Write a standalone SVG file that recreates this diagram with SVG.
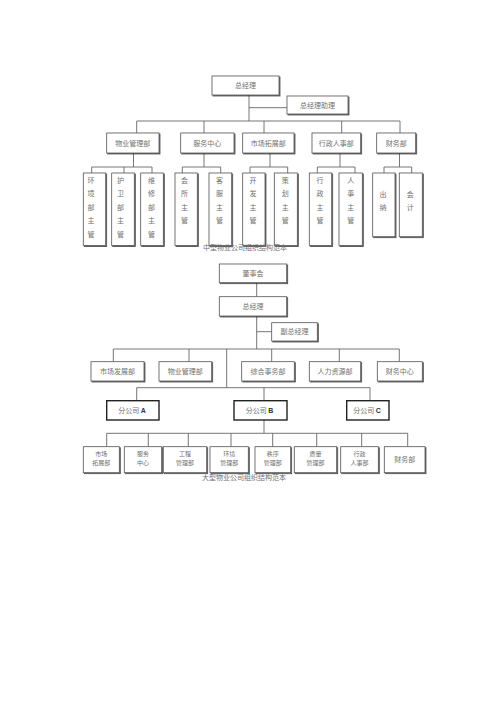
<svg xmlns="http://www.w3.org/2000/svg" width="500" height="707" viewBox="0 0 500 707">
<defs>
<filter id="sh" x="-10%" y="-10%" width="130%" height="130%">
<feOffset in="SourceAlpha" dx="0.9" dy="0.9" result="o"/>
<feComponentTransfer in="o" result="d"><feFuncA type="linear" slope="0.7"/></feComponentTransfer>
<feMerge><feMergeNode in="d"/><feMergeNode in="SourceGraphic"/></feMerge>
</filter>
</defs>
<style>
.b{fill:#fff;stroke:#555;stroke-width:0.8;filter:url(#sh)}
.bb{fill:#fff;stroke:#222;stroke-width:1.4}
.l{stroke:#666;stroke-width:0.9;fill:none}
text{font-family:"Noto Sans CJK SC","Liberation Sans",sans-serif;font-size:7px;fill:#707070;text-anchor:middle}
.two{font-size:6px}
.lat{font-family:"Liberation Sans",sans-serif;font-weight:bold;fill:#333}
</style>
<rect width="500" height="707" fill="#fff"/>

<g id="connectors">
<path class="l" d="M249 95V121M249 107.7H287M136.7 121H400M136.7 121V133M204 121V133M264 121V133M341.7 121V133M400 121V133"/>
<path class="l" d="M133.5 153V167M91.7 167H152M91.7 167V173M124 167V173M152 167V173"/>
<path class="l" d="M204 153V167M182.3 167H220.7M182.3 167V173M220.7 167V173"/>
<path class="l" d="M270 153V167M250 167H287.7M250 167V173M287.7 167V173"/>
<path class="l" d="M340 153V167M317.3 167H355M317.3 167V173M355 167V173"/>
<path class="l" d="M399.5 153V167M384 167H411.7M384 167V173M411.7 167V173"/>
<path class="l" d="M256.7 282.7V296.7M256.7 316V349M256.7 331.7H271.7M113.3 349H399.3M113.3 349V361.7M189 349V361.7M271.7 349V361.7M339.3 349V361.7M399.3 349V361.7"/>
<path class="l" d="M226.7 349V387.7M136.7 387.7H370M136.7 387.7V400.7M264 387.7V400.7M370 387.7V400.7"/>
<path class="l" d="M264 420V433.3M106.7 433.3H407.7M106.7 433.3V446.7M148.3 433.3V446.7M188.3 433.3V446.7M231 433.3V446.7M272.7 433.3V446.7M316.7 433.3V446.7M361.7 433.3V446.7M407.7 433.3V446.7"/>
</g>

<g id="gm1"><rect class="b" x="212" y="76" width="67" height="19"/><text x="245.5" y="88">总经理</text></g>
<g id="gma"><rect class="b" x="287" y="96" width="61" height="18"/><text x="317.5" y="107.5">总经理助理</text></g>
<g id="d1"><rect class="b" x="106.7" y="133" width="52.3" height="20"/><text x="132.8" y="145.5">物业管理部</text></g>
<g id="d2"><rect class="b" x="180.7" y="133" width="53.3" height="20"/><text x="207.3" y="145.5">服务中心</text></g>
<g id="d3"><rect class="b" x="242.7" y="133" width="51.3" height="20"/><text x="268.3" y="145.5">市场拓展部</text></g>
<g id="d4"><rect class="b" x="312" y="133" width="48.7" height="20"/><text x="336.3" y="145.5">行政人事部</text></g>
<g id="d5"><rect class="b" x="376.7" y="133" width="39" height="20"/><text x="396.2" y="145.5">财务部</text></g>

<g id="c1"><rect class="b" x="83.3" y="173" width="22.4" height="72.5"/><text x="91" y="182.5"><tspan x="91">环</tspan><tspan x="91" dy="13.5">境</tspan><tspan x="91" dy="13.5">部</tspan><tspan x="91" dy="13.5">主</tspan><tspan x="91" dy="13.5">管</tspan></text></g>
<g id="c2"><rect class="b" x="111.7" y="173" width="22.6" height="72.5"/><text x="120.5" y="182.5"><tspan x="120.5">护</tspan><tspan x="120.5" dy="13.5">卫</tspan><tspan x="120.5" dy="13.5">部</tspan><tspan x="120.5" dy="13.5">主</tspan><tspan x="120.5" dy="13.5">管</tspan></text></g>
<g id="c3"><rect class="b" x="140.7" y="173" width="22.6" height="72.5"/><text x="151.5" y="182.5"><tspan x="151.5">维</tspan><tspan x="151.5" dy="13.5">修</tspan><tspan x="151.5" dy="13.5">部</tspan><tspan x="151.5" dy="13.5">主</tspan><tspan x="151.5" dy="13.5">管</tspan></text></g>
<g id="c4"><rect class="b" x="175" y="173" width="22.3" height="72.5"/><text x="184.5" y="182.5"><tspan x="184.5">会</tspan><tspan x="184.5" dy="13.5">所</tspan><tspan x="184.5" dy="13.5">主</tspan><tspan x="184.5" dy="13.5">管</tspan></text></g>
<g id="c5"><rect class="b" x="209" y="173" width="22.7" height="72.5"/><text x="219.5" y="182.5"><tspan x="219.5">客</tspan><tspan x="219.5" dy="13.5">服</tspan><tspan x="219.5" dy="13.5">主</tspan><tspan x="219.5" dy="13.5">管</tspan></text></g>
<g id="c6"><rect class="b" x="242.7" y="173" width="22.3" height="72.5"/><text x="253" y="182.5"><tspan x="253">开</tspan><tspan x="253" dy="13.5">发</tspan><tspan x="253" dy="13.5">主</tspan><tspan x="253" dy="13.5">管</tspan></text></g>
<g id="c7"><rect class="b" x="274.3" y="173" width="23" height="72.5"/><text x="285.3" y="182.5"><tspan x="285.3">策</tspan><tspan x="285.3" dy="13.5">划</tspan><tspan x="285.3" dy="13.5">主</tspan><tspan x="285.3" dy="13.5">管</tspan></text></g>
<g id="c8"><rect class="b" x="309.3" y="173" width="22.4" height="72.5"/><text x="320" y="182.5"><tspan x="320">行</tspan><tspan x="320" dy="13.5">政</tspan><tspan x="320" dy="13.5">主</tspan><tspan x="320" dy="13.5">管</tspan></text></g>
<g id="c9"><rect class="b" x="339" y="173" width="23.3" height="72.5"/><text x="350.7" y="182.5"><tspan x="350.7">人</tspan><tspan x="350.7" dy="13.5">事</tspan><tspan x="350.7" dy="13.5">主</tspan><tspan x="350.7" dy="13.5">管</tspan></text></g>
<g id="c10"><rect class="b" x="372.7" y="173" width="22.3" height="63.7"/><text x="383" y="196.8"><tspan x="383">出</tspan><tspan x="383" dy="13.5">纳</tspan></text></g>
<g id="c11"><rect class="b" x="399.3" y="173" width="23" height="63.7"/><text x="410.3" y="196.8"><tspan x="410.3">会</tspan><tspan x="410.3" dy="13.5">计</tspan></text></g>

<text id="cap1" x="245" y="250">中型物业公司组织结构范本</text>

<g id="board"><rect class="b" x="219.3" y="264" width="67.4" height="18.7"/><text x="253" y="275.8">董事会</text></g>
<g id="gm2"><rect class="b" x="219.3" y="296.7" width="67.4" height="19.3"/><text x="253" y="308.8">总经理</text></g>
<g id="vgm"><rect class="b" x="271.7" y="322.7" width="45.6" height="18.3"/><text x="294.5" y="334.3">副总经理</text></g>
<g id="e1"><rect class="b" x="91" y="361.7" width="53" height="19.3"/><text x="117.5" y="373.8">市场发展部</text></g>
<g id="e2"><rect class="b" x="159" y="361.7" width="52.7" height="19.3"/><text x="185.3" y="373.8">物业管理部</text></g>
<g id="e3"><rect class="b" x="241.7" y="361.7" width="52.6" height="19.3"/><text x="268" y="373.8">综合事务部</text></g>
<g id="e4"><rect class="b" x="309.3" y="361.7" width="51.4" height="19.3"/><text x="335" y="373.8">人力资源部</text></g>
<g id="e5"><rect class="b" x="377.3" y="361.7" width="45" height="19.3"/><text x="399.8" y="373.8">财务中心</text></g>
<g id="ba"><rect class="bb" x="106.7" y="400.7" width="52.3" height="19.3"/><text x="132" y="413">分公司 <tspan class="lat">A</tspan></text></g>
<g id="bbk"><rect class="bb" x="234" y="400.7" width="53" height="19.3"/><text x="259.5" y="413">分公司 <tspan class="lat">B</tspan></text></g>
<g id="bc"><rect class="bb" x="346.7" y="400.7" width="42.3" height="19.3"/><text x="367" y="413">分公司 <tspan class="lat">C</tspan></text></g>

<g id="f1"><rect class="b" x="83.3" y="446.7" width="36" height="26"/><text class="two" x="101.3" y="455.5"><tspan x="101.3">市场</tspan><tspan x="101.3" dy="9">拓展部</tspan></text></g>
<g id="f2"><rect class="b" x="124.3" y="446.7" width="37.4" height="26"/><text class="two" x="143" y="455.5"><tspan x="143">服务</tspan><tspan x="143" dy="9">中心</tspan></text></g>
<g id="f3"><rect class="b" x="163.3" y="446.7" width="43.4" height="26"/><text class="two" x="185" y="455.5"><tspan x="185">工程</tspan><tspan x="185" dy="9">管理部</tspan></text></g>
<g id="f4"><rect class="b" x="210" y="446.7" width="38.3" height="26"/><text class="two" x="229.2" y="455.5"><tspan x="229.2">环境</tspan><tspan x="229.2" dy="9">管理部</tspan></text></g>
<g id="f5"><rect class="b" x="255" y="446.7" width="35.7" height="26"/><text class="two" x="272.8" y="455.5"><tspan x="272.8">秩序</tspan><tspan x="272.8" dy="9">管理部</tspan></text></g>
<g id="f6"><rect class="b" x="294.3" y="446.7" width="42.4" height="26"/><text class="two" x="315.5" y="455.5"><tspan x="315.5">质量</tspan><tspan x="315.5" dy="9">管理部</tspan></text></g>
<g id="f7"><rect class="b" x="340.7" y="446.7" width="37.6" height="26"/><text class="two" x="359.5" y="455.5"><tspan x="359.5">行政</tspan><tspan x="359.5" dy="9">人事部</tspan></text></g>
<g id="f8"><rect class="b" x="384.3" y="446.7" width="40.7" height="26"/><text x="404.7" y="462.2">财务部</text></g>

<text id="cap2" x="244" y="480.4">大型物业公司组织结构范本</text>
</svg>
